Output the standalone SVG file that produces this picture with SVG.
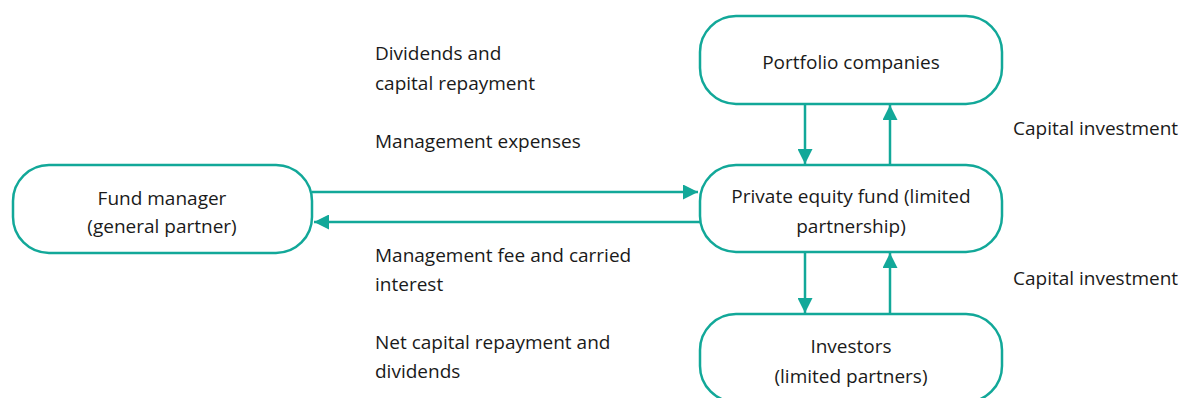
<svg xmlns="http://www.w3.org/2000/svg" width="1184" height="398" viewBox="0 0 1184 398">
<style>
.box{fill:#fff;stroke:#12a899;stroke-width:2.5}
.lbl{font-family:"Open Sans","Liberation Sans",sans-serif;font-size:19px;fill:#1a1a1a}
.c{text-anchor:middle}
.ln{stroke:#12a899;stroke-width:2.5;fill:none}
</style>
<defs>
<marker id="ah" viewBox="0 0 10 10" refX="10" refY="5" markerWidth="7" markerHeight="6" markerUnits="strokeWidth" orient="auto">
<path d="M0,0 L10,5 L0,10 Z" fill="#12a899"/>
</marker>
</defs>
<rect width="1184" height="398" fill="#fff"/>
<g id="connectors">
<line class="ln" x1="312" y1="192" x2="698" y2="192" marker-end="url(#ah)"/>
<line class="ln" x1="700" y1="222" x2="314" y2="222" marker-end="url(#ah)"/>
<line class="ln" x1="805" y1="104" x2="805" y2="164" marker-end="url(#ah)"/>
<line class="ln" x1="890" y1="165" x2="890" y2="105" marker-end="url(#ah)"/>
<line class="ln" x1="805" y1="252" x2="805" y2="313" marker-end="url(#ah)"/>
<line class="ln" x1="890" y1="314" x2="890" y2="253" marker-end="url(#ah)"/>
</g>
<g id="portfolio">
<rect class="box" x="700" y="16" width="302" height="88" rx="36"/>
<text class="lbl c" x="851" y="69">Portfolio companies</text>
</g>
<g id="fund">
<rect class="box" x="700" y="165" width="302" height="87" rx="36"/>
<text class="lbl c" x="851" y="203">Private equity fund (limited</text>
<text class="lbl c" x="851" y="233">partnership)</text>
</g>
<g id="investors">
<rect class="box" x="700" y="314" width="302" height="88" rx="36"/>
<text class="lbl c" x="851" y="353">Investors</text>
<text class="lbl c" x="851" y="383">(limited partners)</text>
</g>
<g id="manager">
<rect class="box" x="13" y="165" width="299" height="88" rx="36"/>
<text class="lbl c" x="162" y="205">Fund manager</text>
<text class="lbl c" x="162" y="233">(general partner)</text>
</g>
<g id="labels">
<text class="lbl" x="375" y="60">Dividends and</text>
<text class="lbl" x="375" y="90">capital repayment</text>
<text class="lbl" x="375" y="148">Management expenses</text>
<text class="lbl" x="375" y="262">Management fee and carried</text>
<text class="lbl" x="375" y="291">interest</text>
<text class="lbl" x="375" y="349">Net capital repayment and</text>
<text class="lbl" x="375" y="378">dividends</text>
<text class="lbl" x="1013" y="135">Capital investment</text>
<text class="lbl" x="1013" y="285">Capital investment</text>
</g>
</svg>
